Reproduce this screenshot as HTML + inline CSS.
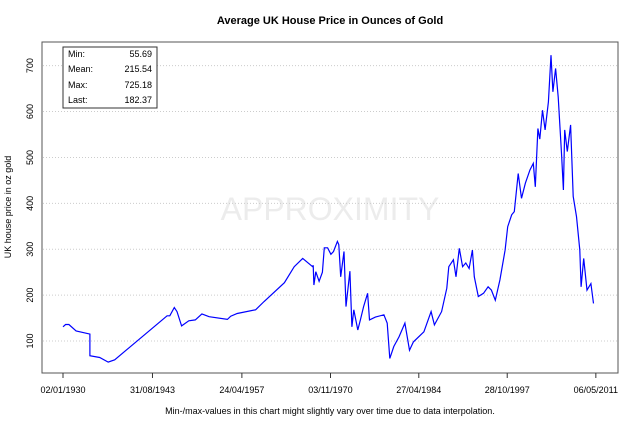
<!DOCTYPE html>
<html><head><meta charset="utf-8"><style>
body{margin:0;background:#fff;}
svg{display:block;font-family:"Liberation Sans",Arial,sans-serif;}
</style></head><body>
<svg id="chart" width="640" height="426" viewBox="0 0 640 426">
<text x="330" y="24" text-anchor="middle" font-size="11" font-weight="bold">Average UK House Price in Ounces of Gold</text>
<text x="330" y="220" text-anchor="middle" font-size="32" fill="#ececec">APPROXIMITY</text>
<g id="grid"></g>
<rect x="42" y="42" width="576" height="331" fill="none" stroke="#555" stroke-width="1"/>
<g id="yaxis"></g>
<g id="xaxis"></g>
<path id="line" fill="none" stroke="#0000ff" stroke-width="1.2"/>
<g font-size="9">
<rect x="63" y="47" width="94" height="61" fill="#fff" stroke="#333"/>
<text x="68" y="57">Min:</text><text x="152" y="57" text-anchor="end">55.69</text>
<text x="68" y="72">Mean:</text><text x="152" y="72" text-anchor="end">215.54</text>
<text x="68" y="88">Max:</text><text x="152" y="88" text-anchor="end">725.18</text>
<text x="68" y="103">Last:</text><text x="152" y="103" text-anchor="end">182.37</text>
</g>
<text transform="translate(11,207) rotate(-90)" text-anchor="middle" font-size="9">UK house price in oz gold</text>
<text x="330" y="414" text-anchor="middle" font-size="9">Min-/max-values in this chart might slightly vary over time due to data interpolation.</text>
</svg>
<script>
const years=[1930,1930.4,1930.9,1932,1934.1,1934.1,1935.6,1936.9,1937.9,1945.9,1946.3,1947,1947.4,1948.1,1949.2,1950.2,1951.2,1952.3,1955.1,1955.6,1956.6,1959.4,1960.7,1963.8,1965.3,1966.6,1968.1,1968.2,1968.3,1968.6,1969.1,1969.6,1969.9,1970.4,1970.9,1971.3,1971.9,1972.1,1972.4,1972.9,1973.2,1973.8,1974.1,1974.4,1975,1975.4,1975.9,1976.5,1976.8,1977.7,1979,1979.5,1979.9,1980.5,1981.3,1982.2,1982.9,1983.5,1985.1,1986.2,1986.7,1987.8,1988.6,1988.9,1989.6,1990,1990.5,1991,1991.5,1992,1992.5,1992.8,1993.4,1994.2,1994.9,1995.4,1996,1996.7,1997.5,1997.9,1998.5,1998.9,1999.5,2000,2000.6,2001.3,2001.8,2002.1,2002.5,2002.8,2003.2,2003.6,2004.1,2004.5,2004.8,2005.2,2005.6,2006.1,2006.4,2006.6,2007,2007.5,2007.9,2008.4,2008.9,2009.1,2009.5,2010,2010.6,2011];
const values=[131,136,136,122,115,68,64,54,59,155,155,173,164,133,144,146,159,153,147,154,160,168,186,227,262,280,262,265,222,251,230,250,303,303,289,295,317,310,240,295,175,252,131,168,124,146,175,204,146,152,157,139,62,88,109,139,80,98,120,164,135,164,215,262,277,240,302,262,270,258,298,240,197,204,218,211,189,233,298,349,375,382,465,411,444,473,487,436,563,540,603,560,621,723,643,694,632,509,429,560,513,571,415,371,298,218,280,211,225,182];
const yTicks=[100,200,300,400,500,600,700];
const xTickYears=[1930.0,1943.66,1957.31,1970.84,1984.32,1997.82,2011.35];
const xTickLabels=["02/01/1930","31/08/1943","24/04/1957","03/11/1970","27/04/1984","28/10/1997","06/05/2011"];
const NS="http://www.w3.org/2000/svg";
const X=t=>63+(t-1930)*6.55;
const Y=v=>341-(v-100)*0.4589;
function mk(tag,attrs,parent,txt){const e=document.createElementNS(NS,tag);for(const k in attrs)e.setAttribute(k,attrs[k]);if(txt!=null)e.textContent=txt;parent.appendChild(e);return e;}
const grid=document.getElementById('grid'),ya=document.getElementById('yaxis'),xa=document.getElementById('xaxis');
yTicks.forEach(v=>{
 const g=mk('line',{x1:43,x2:617,y1:Y(v),y2:Y(v),stroke:'#ccc','stroke-dasharray':'1,2'},grid);
 
 
 const t=mk('text',{transform:`translate(33,${Y(v)}) rotate(-90)`,'text-anchor':'middle','font-size':9},ya,String(v));
 
 
});
xTickYears.forEach((yr,i)=>{
 const l=mk('line',{x1:X(yr),x2:X(yr),y1:373,y2:378,stroke:'#333'},xa);
 
 
 const t=mk('text',{x:X(yr),y:393,'text-anchor':'middle','font-size':9},xa,xTickLabels[i]);
 
 
});
document.getElementById('line').setAttribute('d',years.map((t,i)=>(i?'L':'M')+X(t).toFixed(1)+','+Y(values[i]).toFixed(1)).join(''));
</script>
</body></html>
